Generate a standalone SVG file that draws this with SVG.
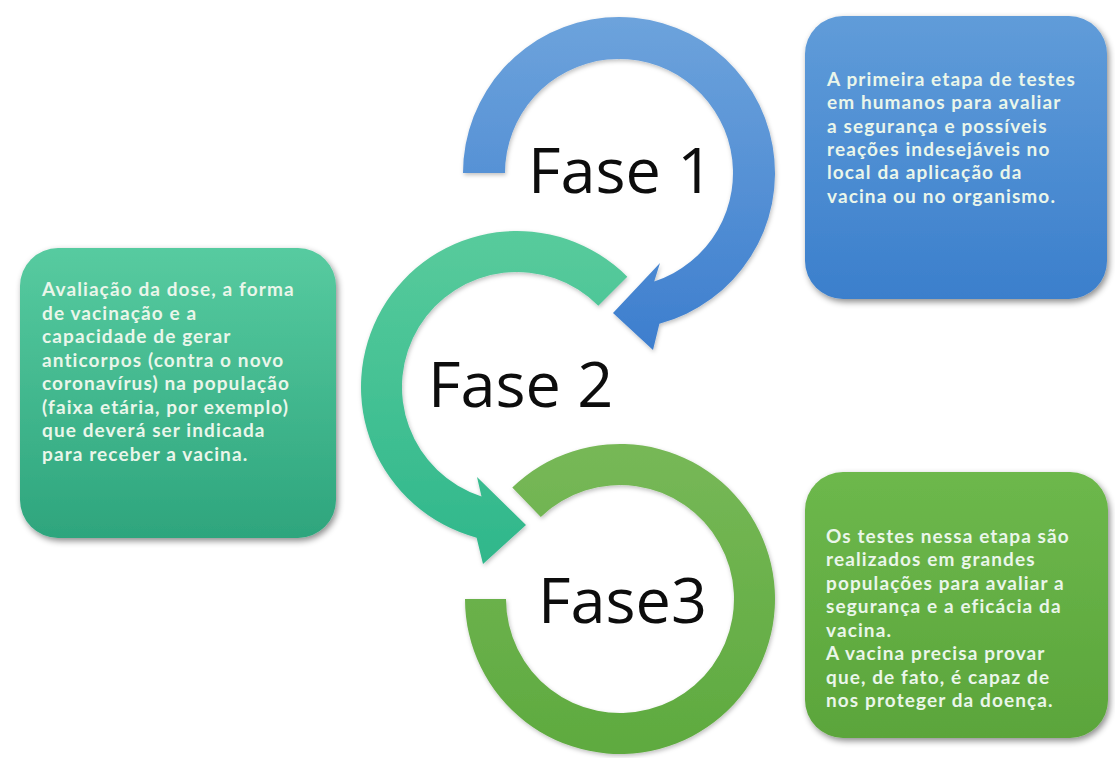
<svg xmlns="http://www.w3.org/2000/svg" width="1115" height="758" viewBox="0 0 1115 758">
  <style>
    .fase { font-family: "Open Sans", "Liberation Sans", sans-serif; font-size: 63px; fill: #0d0d0d; }
    .body { font-family: Lato, "Open Sans", sans-serif; font-size: 19px; font-weight: 700; letter-spacing: 1.1px; fill: #eaf6ea; }
  </style>
  <defs>
    <linearGradient id="gBlueArc" x1="0" y1="0" x2="0" y2="1">
      <stop offset="0" stop-color="#6da3dc"/>
      <stop offset="1" stop-color="#3d7ece"/>
    </linearGradient>
    <linearGradient id="gTealArc" x1="0" y1="0" x2="0" y2="1">
      <stop offset="0" stop-color="#58cb9c"/>
      <stop offset="1" stop-color="#2fb78b"/>
    </linearGradient>
    <linearGradient id="gGreenArc" x1="0" y1="0" x2="0" y2="1">
      <stop offset="0" stop-color="#77b857"/>
      <stop offset="1" stop-color="#5eaa3f"/>
    </linearGradient>
    <linearGradient id="gBlueBox" x1="0" y1="0" x2="0" y2="1">
      <stop offset="0" stop-color="#609cd9"/>
      <stop offset="1" stop-color="#3b7fcc"/>
    </linearGradient>
    <linearGradient id="gTealBox" x1="0" y1="0" x2="0" y2="1">
      <stop offset="0" stop-color="#57cba0"/>
      <stop offset="1" stop-color="#2ea57d"/>
    </linearGradient>
    <linearGradient id="gGreenBox" x1="0" y1="0" x2="0" y2="1">
      <stop offset="0" stop-color="#6db84c"/>
      <stop offset="1" stop-color="#5ba53b"/>
    </linearGradient>
    <filter id="shadow" x="-10%" y="-10%" width="125%" height="125%">
      <feDropShadow dx="2" dy="3" stdDeviation="3" flood-color="#000" flood-opacity="0.45"/>
    </filter>
    <filter id="arcShadow" x="-10%" y="-10%" width="125%" height="125%">
      <feDropShadow dx="1" dy="2" stdDeviation="2" flood-color="#000" flood-opacity="0.25"/>
    </filter>
  </defs>

  <g id="connectors">
    <path id="arc3" filter="url(#arcShadow)" fill="url(#gGreenArc)" d="M512.3,487.5 A155,155 0 1 1 465,599 L506,599 A114,114 0 1 0 540.8,517 Z"/>
    <path id="arc2" filter="url(#arcShadow)" fill="url(#gTealArc)" d="M627.3,276.7 A156,156 0 1 0 476.6,537.7 L483,564 L526,525 L477,477 L481.5,496.4 A115,115 0 1 1 598.3,305.7 Z"/>
    <path id="arc1" filter="url(#arcShadow)" fill="url(#gBlueArc)" d="M463,173 A156,156 0 1 1 659.4,323.7 L653,350 L613,313 L660,263 L654.2,281.4 A114,114 0 1 0 505,173 Z"/>
  </g>

  <g id="fase1">
    <text class="fase" x="528" y="193">Fase 1</text>
  </g>
  <g id="fase2">
    <text class="fase" x="428" y="407">Fase 2</text>
  </g>
  <g id="fase3">
    <text class="fase" x="538" y="623">Fase3</text>
  </g>

  <g id="box1">
    <rect x="805" y="16" width="302" height="283" rx="38" fill="url(#gBlueBox)" filter="url(#shadow)"/>
    <text class="body">
      <tspan x="827" y="86">A primeira etapa de testes</tspan>
      <tspan x="827" y="109.3">em humanos para avaliar</tspan>
      <tspan x="827" y="132.7">a segurança e possíveis</tspan>
      <tspan x="827" y="156">reações indesejáveis no</tspan>
      <tspan x="827" y="179.3">local da aplicação da</tspan>
      <tspan x="827" y="202.7">vacina ou no organismo.</tspan>
    </text>
  </g>

  <g id="box2">
    <rect x="20" y="248" width="316" height="290" rx="38" fill="url(#gTealBox)" filter="url(#shadow)"/>
    <text class="body">
      <tspan x="42" y="296">Avaliação da dose, a forma</tspan>
      <tspan x="42" y="319.5">de vacinação e a</tspan>
      <tspan x="42" y="343">capacidade de gerar</tspan>
      <tspan x="42" y="366.5">anticorpos (contra o novo</tspan>
      <tspan x="42" y="390">coronavírus) na população</tspan>
      <tspan x="42" y="413.5">(faixa etária, por exemplo)</tspan>
      <tspan x="42" y="437">que deverá ser indicada</tspan>
      <tspan x="42" y="460.5">para receber a vacina.</tspan>
    </text>
  </g>

  <g id="box3">
    <rect x="805" y="472" width="303" height="266" rx="38" fill="url(#gGreenBox)" filter="url(#shadow)"/>
    <text class="body">
      <tspan x="826" y="543">Os testes nessa etapa são</tspan>
      <tspan x="826" y="566.4">realizados em grandes</tspan>
      <tspan x="826" y="589.9">populações para avaliar a</tspan>
      <tspan x="826" y="613.3">segurança e a eficácia da</tspan>
      <tspan x="826" y="636.7">vacina.</tspan>
      <tspan x="826" y="660.1">A vacina precisa provar</tspan>
      <tspan x="826" y="683.6">que, de fato, é capaz de</tspan>
      <tspan x="826" y="707">nos proteger da doença.</tspan>
    </text>
  </g>
</svg>
